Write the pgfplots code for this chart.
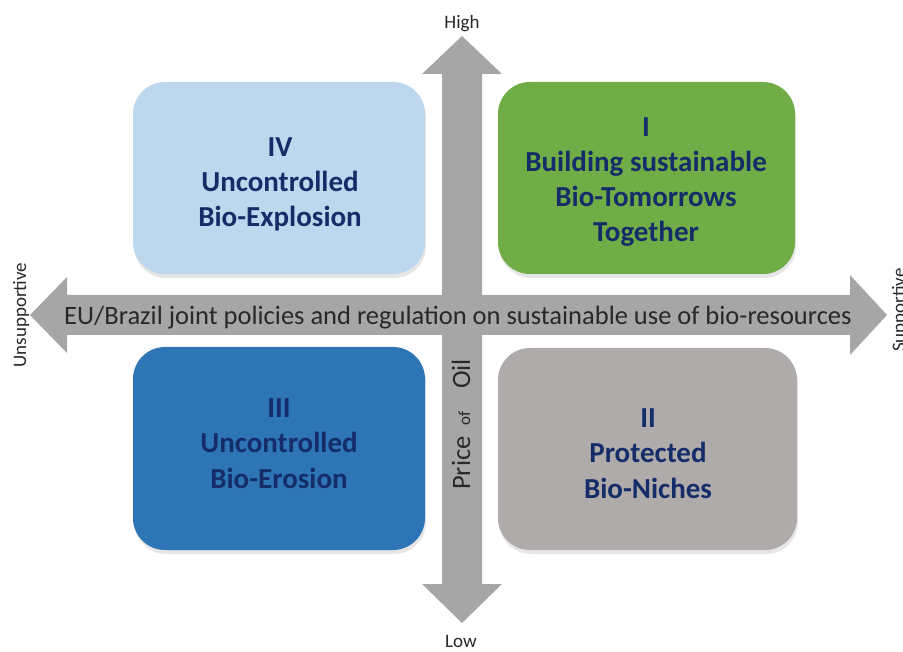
\documentclass[border=0pt]{standalone}
\usepackage{pgfplots}
\pgfplotsset{compat=1.18}
\usepackage{fontspec}
\setmainfont{Carlito}
\usetikzlibrary{shadows}
\definecolor{arrowgray}{RGB}{166,166,166}
\definecolor{boxIV}{RGB}{189,215,238}
\definecolor{boxI}{RGB}{112,173,71}
\definecolor{boxIII}{RGB}{46,117,182}
\definecolor{boxII}{RGB}{175,171,171}
\definecolor{navy}{RGB}{20,45,105}
\definecolor{labgray}{RGB}{40,40,40}
\newcommand{\bx}{\fontsize{29}{35}\selectfont\bfseries\color{navy}}
\begin{document}
\begin{tikzpicture}
\useasboundingbox (0,0) rectangle (903pt,652pt);
\clip (0,0) rectangle (903pt,652pt);
\begin{axis}[
  hide axis, scale only axis,
  width=903pt, height=652pt,
  xmin=0, xmax=903, ymin=0, ymax=652,
  y dir=reverse, clip=false]
% arrows
\addplot[fill=arrowgray, draw=none] coordinates {
 (442,74) (422,74) (462,36) (502,74) (482,74) (482,584) (502,584) (462,623) (422,584) (442,584) (442,74)} -- cycle;
\addplot[fill=arrowgray, draw=none] coordinates {
 (67,295) (67,277) (30,315) (67,353) (67,335) (850,335) (850,355) (887,315) (850,275) (850,295) (67,295)} -- cycle;
% boxes
\fill[boxIV, rounded corners=32pt, drop shadow={shadow xshift=1pt, shadow yshift=-4pt, opacity=0.2}] (axis cs:133,82) rectangle (axis cs:425,274);
\fill[boxI, rounded corners=32pt, drop shadow={shadow xshift=1pt, shadow yshift=-4pt, opacity=0.2}] (axis cs:498,82) rectangle (axis cs:795,274);
\fill[boxIII, rounded corners=32pt, drop shadow={shadow xshift=1pt, shadow yshift=-4pt, opacity=0.2}] (axis cs:133,347) rectangle (axis cs:425,550);
\fill[boxII, rounded corners=32pt, drop shadow={shadow xshift=1pt, shadow yshift=-4pt, opacity=0.2}] (axis cs:498,348) rectangle (axis cs:797,550);
% box texts
\node[anchor=base] at (axis cs:280,157) {\bx IV};
\node[anchor=base] at (axis cs:280,192) {\bx Uncontrolled};
\node[anchor=base] at (axis cs:280,227) {\bx Bio-Explosion};
\node[anchor=base] at (axis cs:646,137) {\bx I};
\node[anchor=base] at (axis cs:646,172) {\bx Building sustainable};
\node[anchor=base] at (axis cs:646,207) {\bx Bio-Tomorrows};
\node[anchor=base] at (axis cs:646,242) {\bx Together};
\node[anchor=base] at (axis cs:279,418) {\bx III};
\node[anchor=base] at (axis cs:279,453) {\bx Uncontrolled};
\node[anchor=base] at (axis cs:279,488) {\bx Bio-Erosion};
\node[anchor=base] at (axis cs:648,428) {\bx II};
\node[anchor=base] at (axis cs:648,463) {\bx Protected};
\node[anchor=base] at (axis cs:648,498) {\bx Bio-Niches};
% axis texts
\node[anchor=base, inner sep=0pt] at (axis cs:458,325) {\fontsize{26.5}{30}\selectfont\color{labgray}EU/Brazil joint policies and regulation on sustainable use of bio-resources};
\node[anchor=base, rotate=90, inner sep=0pt] at (axis cs:470,463) {\fontsize{26.5}{30}\selectfont\color{labgray}Price};
\node[anchor=base, rotate=90, inner sep=0pt] at (axis cs:470,418) {\fontsize{17}{20}\selectfont\color{labgray}of};
\node[anchor=base, rotate=90, inner sep=0pt] at (axis cs:470,374) {\fontsize{26.5}{30}\selectfont\color{labgray}Oil};
\node[anchor=base, inner sep=0pt] at (axis cs:462,29) {\fontsize{19}{22}\selectfont\color{labgray}High};
\node[anchor=base, inner sep=0pt] at (axis cs:461,647) {\fontsize{19}{22}\selectfont\color{labgray}Low};
\node[anchor=base, rotate=90, inner sep=0pt] at (axis cs:26,315) {\fontsize{19}{22}\selectfont\color{labgray}Unsupportive};
\node[anchor=base, rotate=90, inner sep=0pt] at (axis cs:905,310) {\fontsize{19}{22}\selectfont\color{labgray}Supportive};
\end{axis}
\end{tikzpicture}
\end{document}
